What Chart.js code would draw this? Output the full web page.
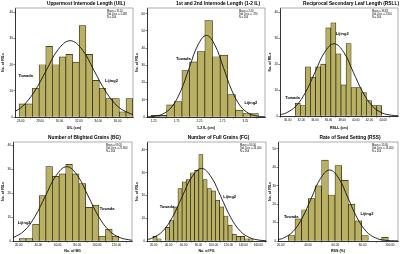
<!DOCTYPE html>
<html>
<head>
<meta charset="utf-8">
<script src="https://cdn.jsdelivr.net/npm/chart.js@4.4.1/dist/chart.umd.min.js"></script>
<style>
  html, body { margin: 0; padding: 0; background: #fff; }
  #wrap { position: relative; width: 400px; height: 254px; overflow: hidden; background: #fff; }
  #wrap canvas { position: absolute; }
</style>
</head>
<body>
<div id="wrap"></div>
<script>
// Titles
const titles = [
  "Uppermost Internode Length (UIL)",
  "1st and 2nd Internode Length (1-2 IL)",
  "Reciprocal Secondary Leaf Length (RSLL)",
  "Number of Blighted Grains (BG)",
  "Number of Full Grains (FG)",
  "Rate of Seed Setting (RSS)"
];
const xTitles = ["UIL (cm)", "1-2 IL (cm)", "RSLL (cm)", "No. of BG", "No. of FG", "RSS (%)"];
const yTitle = "No. of RILs";
const parentNames = ["Towada", "Lijing2"];

// UIL
const uilBinStart = 25.83, uilBinWidth = 0.69;
const uilCounts = [5, 5, 11, 20, 27, 20, 23, 24, 21, 35, 24, 14, 11, 7, 7, 2, 7];
const uilTicks = [26, 28, 30, 32, 34, 36];
const uilCurveX = [25.45, 26.14, 27.38, 28.62, 29.86, 31.1, 32.34, 33.58, 34.82, 36.06, 37.3, 37.59];
const uilCurveY = [2.2, 3.9, 9.5, 17.7, 25.8, 29.2, 25.8, 17.7, 9.5, 3.9, 1.3, 1.0];
const uilStats = ["Mean = 31.10", "Std. Dev. = 2.488", "N = 264"];

// 1-2 IL
const ilBinStart = 1.20, ilBinWidth = 0.1667;
const ilCounts = [1, 1, 7, 9, 27, 32, 38, 56, 35, 36, 13, 4, 2, 2];
const ilTicks = [1.25, 1.75, 2.25, 2.75, 3.25];
const ilCurveX = [1.105, 1.29, 1.475, 1.66, 1.845, 2.03, 2.215, 2.40, 2.585, 2.77, 2.955, 3.14, 3.325, 3.51, 3.678];
const ilCurveY = [0.1, 0.5, 2.1, 6.4, 15.4, 28.8, 41.8, 47.4, 41.8, 28.8, 15.4, 6.4, 2.1, 0.5, 0.12];
const ilStats = ["Mean = 2.40", "Std. Dev. = .370", "N = 264"];

// RSLL
const rsllBinStart = 31.12, rsllBinWidth = 0.746;
const rsllCounts = [5, 4, 19, 15, 19, 20, 34, 36, 24, 12, 28, 11, 11, 9, 6, 4, 4];
const rsllTicks = [30, 32, 34, 36, 38, 40, 42, 44];
const rsllCurveX = [28.88, 29.8, 31.21, 32.62, 34.02, 35.43, 36.83, 38.24, 39.64, 41.05, 42.45, 43.86, 45.26, 46.2];
const rsllCurveY = [0.5, 1.2, 3.8, 9.1, 16.9, 24.6, 27.9, 24.6, 16.9, 9.1, 3.8, 1.2, 0.3, 0.1];
const rsllStats = ["Mean = 36.83", "Std. Dev. = 2.810", "N = 264"];

// BG
const bgBinStart = 20.68, bgBinWidth = 6.78;
const bgCounts = [1, 1, 7, 19, 31, 27, 28, 32, 28, 24, 14, 15, 2, 5, 2];
const bgTicks = [20, 40, 60, 80, 100, 120];
const bgCurveX = [14.2, 25.6, 36.5, 47.4, 58.3, 69.2, 80.1, 91.0, 101.9, 112.8, 123.7, 135.7];
const bgCurveY = [1.3, 4.2, 10.1, 18.8, 27.3, 31, 27.3, 18.8, 10.1, 4.2, 1.4, 0.3];
const bgStats = ["Mean = 69.20", "Std. Dev. = 21.800", "N = 264"];

// FG
const fgBinStart = 18.89, fgBinWidth = 5.59;
const fgCounts = [2, 1, 0, 6, 9, 15, 23, 26, 27, 30, 31, 38, 27, 23, 22, 18, 15, 11, 7, 3, 2, 2, 1, 1];
const fgTicks = [20, 40, 60, 80, 100, 120, 140, 160];
const fgCurveX = [11.05, 19, 32, 45, 58, 71, 84, 97, 110, 123, 136, 149, 162, 170.3];
const fgCurveY = [0.6, 1.4, 4.3, 10.4, 19.4, 28.1, 31.9, 28.1, 19.4, 10.4, 4.3, 1.4, 0.35, 0.13];
const fgStats = ["Mean = 84.00", "Std. Dev. = 26.000", "N = 264"];

// RSS
const rssBinStart = 25.6, rssBinWidth = 4.88;
const rssCounts = [3, 12, 17, 23, 30, 44, 25, 41, 33, 20, 11, 3, 0, 0, 2];
const rssTicks = [20, 40, 60, 80, 100];
const rssCurveX = [18.05, 22.4, 29.1, 35.8, 42.5, 49.2, 55.9, 62.6, 69.3, 76.0, 82.7, 89.4, 96.1, 105.9];
const rssCurveY = [0.7, 1.7, 5.2, 12.5, 23.4, 34.0, 38.6, 34.0, 23.4, 12.5, 5.2, 1.7, 0.43, 0.04];
const rssStats = ["Mean = 55.90", "Std. Dev. = 13.400", "N = 264"];

// where the parent names sit (data coordinates)
const noteSpots = [
  [[25.76, 15.6], [34.7, 13.7]],
  [[1.74, 33.7], [3.23, 8.2]],
  [[29.66, 7.1], [37.07, 31.6]],
  [[103, 13.6], [19.0, 7.7]],
  [[28, 14.9], [113, 19.4]],
  [[22.4, 13.1], [78.5, 15]]
];

const panels = [
  { counts: uilCounts, start: uilBinStart, width: uilBinWidth, ticks: uilTicks, cx: uilCurveX, cy: uilCurveY, stats: uilStats, xMin: 25.41, xMax: 37.59, yMax: 41.7, yTicks: [0, 10, 20, 30, 40] },
  { counts: ilCounts, start: ilBinStart, width: ilBinWidth, ticks: ilTicks, cx: ilCurveX, cy: ilCurveY, stats: ilStats, xMin: 1.105, xMax: 3.678, yMax: 63.3, yTicks: [0, 10, 20, 30, 40, 50, 60] },
  { counts: rsllCounts, start: rsllBinStart, width: rsllBinWidth, ticks: rsllTicks, cx: rsllCurveX, cy: rsllCurveY, stats: rsllStats, xMin: 28.88, xMax: 46.2, yMax: 41.7, yTicks: [0, 10, 20, 30, 40] },
  { counts: bgCounts, start: bgBinStart, width: bgBinWidth, ticks: bgTicks, cx: bgCurveX, cy: bgCurveY, stats: bgStats, xMin: 14.2, xMax: 135.9, yMax: 41.3, yTicks: [0, 10, 20, 30, 40] },
  { counts: fgCounts, start: fgBinStart, width: fgBinWidth, ticks: fgTicks, cx: fgCurveX, cy: fgCurveY, stats: fgStats, xMin: 11.05, xMax: 170.3, yMax: 43.5, yTicks: [0, 10, 20, 30, 40] },
  { counts: rssCounts, start: rssBinStart, width: rssBinWidth, ticks: rssTicks, cx: rssCurveX, cy: rssCurveY, stats: rssStats, xMin: 18.05, xMax: 105.9, yMax: 53.8, yTicks: [0, 10, 20, 30, 40, 50] }
];

// canvas cells and plot box insets
const frames = [
  { left: 0, top: 0, w: 134, h: 131, padTop: 8, yW: 15, padRight: 1, xH: 14 },
  { left: 134, top: 0, w: 133, h: 131, padTop: 8, yW: 13, padRight: 2, xH: 14 },
  { left: 267, top: 0, w: 133, h: 131, padTop: 8, yW: 13, padRight: 2, xH: 15 },
  { left: 0, top: 131, w: 134, h: 123, padTop: 11, yW: 13, padRight: 2, xH: 13 },
  { left: 134, top: 131, w: 133, h: 123, padTop: 11, yW: 13, padRight: 1, xH: 13 },
  { left: 267, top: 131, w: 133, h: 123, padTop: 11, yW: 11, padRight: 2, xH: 13 }
];

const FONT = "'Liberation Sans', Arial, sans-serif";
const BAR_FILL = "#bab063";

// title, stats box, parent labels and plot frame
const panelText = {
  id: "panelText",
  beforeDatasetsDraw(chart) {
    const { ctx, chartArea: a } = chart;
    ctx.save();
    ctx.strokeStyle = "#777";
    ctx.lineWidth = 0.6;
    ctx.beginPath();
    ctx.moveTo(a.left, a.top);
    ctx.lineTo(a.right, a.top);
    ctx.lineTo(a.right, a.bottom);
    ctx.stroke();
    ctx.restore();
  },
  afterDraw(chart, args, opts) {
    const { ctx, chartArea: a, scales } = chart;
    ctx.save();
    ctx.fillStyle = "#000";
    ctx.textBaseline = "middle";
    ctx.textAlign = "center";
    ctx.font = "bold 4.8px " + FONT;
    ctx.fillText(opts.title, (a.left + a.right) / 2 + 12, a.top - 4);

    ctx.textAlign = "left";
    ctx.font = "2.6px " + FONT;
    opts.stats.forEach((s, i) => ctx.fillText(s, a.right - 26, a.top + 3.5 + i * 2.8));

    ctx.font = "bold 4px " + FONT;
    opts.notes.forEach((n) => {
      ctx.fillText(n.text, scales.x.getPixelForValue(n.x), scales.y.getPixelForValue(n.y));
    });
    ctx.restore();
  }
};

const wrap = document.getElementById("wrap");

panels.forEach((p, k) => {
  const f = frames[k];
  const canvas = document.createElement("canvas");
  canvas.width = f.w;
  canvas.height = f.h;
  canvas.style.left = f.left + "px";
  canvas.style.top = f.top + "px";
  canvas.style.width = f.w + "px";
  canvas.style.height = f.h + "px";
  wrap.appendChild(canvas);

  const bars = p.counts.map((c, i) => ({ x: p.start + p.width * (i + 0.5), y: c }));
  const curve = p.cx.map((x, i) => ({ x: x, y: p.cy[i] }));
  const notes = noteSpots[k].map((s, i) => ({ text: parentNames[i], x: s[0], y: s[1] }));

  new Chart(canvas.getContext("2d"), {
    type: "bar",
    data: {
      datasets: [
        {
          type: "line",
          data: curve,
          borderColor: "#111",
          borderWidth: 0.9,
          pointRadius: 0,
          tension: 0.4,
          fill: false,
          order: 0
        },
        {
          data: bars,
          backgroundColor: BAR_FILL,
          borderColor: "#24220f",
          borderWidth: 0.7,
          barPercentage: 1,
          categoryPercentage: 1,
          order: 1
        }
      ]
    },
    options: {
      responsive: false,
      animation: false,
      devicePixelRatio: 1,
      layout: { padding: { top: f.padTop, right: f.padRight, left: 0, bottom: 0 } },
      plugins: {
        legend: { display: false },
        tooltip: { enabled: false },
        panelText: { title: titles[k], stats: p.stats, notes: notes }
      },
      scales: {
        x: {
          type: "linear",
          offset: false,
          min: p.xMin,
          max: p.xMax,
          afterBuildTicks: (s) => { s.ticks = p.ticks.map((v) => ({ value: v })); },
          afterFit: (s) => { s.height = f.xH; },
          ticks: {
            autoSkip: false,
            maxRotation: 0,
            padding: 0.5,
            color: "#000",
            font: { size: 3, family: FONT },
            callback: (v) => Number(v).toFixed(2)
          },
          grid: { display: true, drawOnChartArea: false, tickLength: 1.5, color: "#000", lineWidth: 0.5 },
          border: { display: true, color: "#000", width: 0.8 },
          title: { display: true, text: xTitles[k], color: "#000", padding: 0.5, font: { size: 3.6, weight: "bold", family: FONT } }
        },
        y: {
          min: 0,
          max: p.yMax,
          afterBuildTicks: (s) => { s.ticks = p.yTicks.map((v) => ({ value: v })); },
          afterFit: (s) => { s.width = f.yW; },
          ticks: { padding: 0.5, color: "#000", font: { size: 3.2, family: FONT } },
          grid: { display: true, drawOnChartArea: false, tickLength: 1.5, color: "#000", lineWidth: 0.5 },
          border: { display: true, color: "#000", width: 0.8 },
          title: { display: true, text: yTitle, color: "#000", padding: 0.5, font: { size: 3.6, weight: "bold", family: FONT } }
        }
      }
    },
    plugins: [panelText]
  });
});
</script>
</body>
</html>
